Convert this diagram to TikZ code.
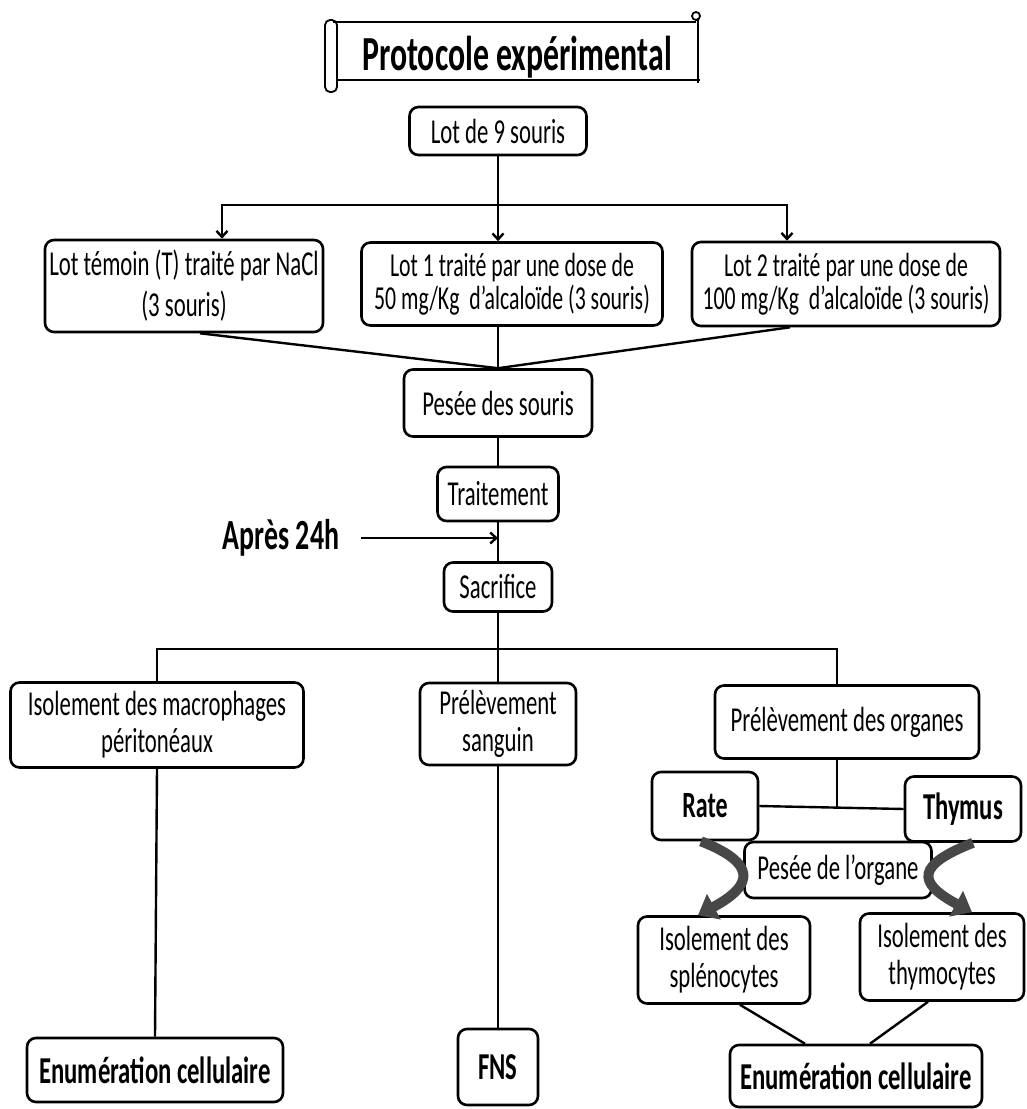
\documentclass[tikz,border=0pt]{standalone}
\usepackage{fontspec}
\setmainfont{Carlito}[FakeStretch=0.65]
\usetikzlibrary{arrows.meta}
\begin{document}
\begin{tikzpicture}[x=1pt,y=-1pt,
  pbox/.style={draw, line width=2.6pt, rounded corners=9pt, fill=white, align=center, inner sep=2pt,
    font=\fontsize{35}{37}\selectfont},
  conn/.style={line width=2.4pt},
  arr/.style={line width=2.4pt, -{Straight Barb[length=6pt,width=11pt]}},
  big/.style={line width=10pt, draw=black!72, -{Triangle[length=18pt,width=28pt]}},
  bff/.style={font=\fontsize{#1}{#1}\selectfont\bfseries},
  scroll/.style={line width=1.8pt}
]
\useasboundingbox (0,0) rectangle (1027,1109);

% title scroll
\node[bff=49, inner sep=0pt] (title) at (517,57) {Protocole expérimental};
\draw[scroll] (333,22) -- (696,22);
\draw[scroll] (337,80) -- (700,80);
\draw[scroll] (698,18) -- (698,83);
\draw[scroll, rounded corners=5pt] (325,20) rectangle (337,92);
\draw[scroll] (696,16) circle (4);

% nodes
\node[pbox, minimum width=177pt, minimum height=48pt] (lot9) at (498,131) {Lot de 9 souris};
\node[pbox, minimum width=278pt, minimum height=92pt, font=\fontsize{35}{41}\selectfont] (temoin) at (184,286)
  {Lot témoin (T) traité par NaCl\\(3 souris)};
\node[pbox, minimum width=301pt, minimum height=83pt, font=\fontsize{33.5}{33}\selectfont] (lot1) at (512,284)
  {Lot 1 traité par une dose de\\50 mg/Kg~~d’alcaloïde (3 souris)};
\node[pbox, minimum width=308pt, minimum height=84pt, font=\fontsize{33.5}{33}\selectfont] (lot2) at (846,284)
  {Lot 2 traité par une dose de\\100 mg/Kg~~d’alcaloïde (3 souris)};
\node[pbox, minimum width=188pt, minimum height=67pt] (pesee) at (498,403) {Pesée des souris};
\node[pbox, minimum width=121pt, minimum height=54pt] (trait) at (498,494) {Traitement};
\node[bff=43, inner sep=0pt] (apres) at (281,538) {Après 24h};
\node[pbox, minimum width=108pt, minimum height=49pt] (sacr) at (498,587) {Sacrifice};
\node[pbox, minimum width=293pt, minimum height=85pt] (macro) at (157,725)
  {Isolement des macrophages\\péritonéaux};
\node[pbox, minimum width=156pt, minimum height=82pt] (sang) at (498,724) {Prélèvement\\sanguin};
\node[pbox, minimum width=264pt, minimum height=73pt] (organes) at (847,722) {Prélèvement des organes};
\node[pbox, minimum width=106pt, minimum height=68pt, bff=37] (rate) at (705,806) {Rate};
\node[pbox, minimum width=116pt, minimum height=65pt, bff=38] (thymus) at (963,809) {Thymus};
\node[pbox, minimum width=187pt, minimum height=56pt] (orgpesee) at (838,870) {Pesée de l’organe};
\node[pbox, minimum width=172pt, minimum height=87pt] (splen) at (724,960) {Isolement des\\splénocytes};
\node[pbox, minimum width=164pt, minimum height=87pt] (thymo) at (942,957) {Isolement des\\thymocytes};
\node[pbox, minimum width=252pt, minimum height=62pt, bff=38] (enumR) at (856,1076) {Enumération cellulaire};
\node[pbox, minimum width=256pt, minimum height=64pt, bff=38] (enumL) at (155,1070) {Enumération cellulaire};
\node[pbox, minimum width=80pt, minimum height=76pt, bff=38] (fns) at (498,1067) {FNS};

% top distribution
\coordinate (s1) at (498,205);
\draw[conn] (lot9.south) -- (s1);
\draw[arr] (s1) -| ([xshift=38pt]temoin.north);
\draw[arr] (s1) -| ([xshift=-59pt]lot2.north);
\draw[arr] (s1) -- (s1 |- lot1.north);

% converge to pesee
\draw[conn] ([xshift=16pt]temoin.south) -- (pesee.north);
\draw[conn] (pesee.north |- lot1.south) -- (pesee.north);
\draw[conn] ([xshift=-56pt]lot2.south) -- (pesee.north);

% central chain
\draw[conn] (pesee.south) -- (trait.north);
\draw[conn] (trait.south) -- (sacr.north);
\draw[arr] ([xshift=22pt]apres.east) -- (trait.south |- apres.east);

% split after sacrifice
\coordinate (s2) at (498,649);
\draw[conn] (sacr.south) -- (s2);
\draw[conn] (macro.north) -- (macro.north |- s2) -- ([xshift=-10pt]organes.north |- s2) -- ([xshift=-10pt]organes.north);
\draw[conn] (s2) -- (sang.north);

% lower branches
\draw[conn] (macro.south) -- (enumL.north);
\draw[conn] (sang.south) -- (fns.north);
\draw[conn] (rate.east) -- (thymus.west);
\coordinate (j) at (837,808);
\draw[conn] ([xshift=-10pt]organes.south) -- (j);

% thick curved arrows
\draw[big] ([xshift=-4pt]rate.south) .. controls +(56,22) and +(56,-30) .. ([xshift=-26pt]splen.north);
\draw[big] ([xshift=10pt]thymus.south) .. controls +(-56,22) and +(-56,-30) .. ([xshift=30pt]thymo.north);

% to final enumeration
\draw[conn] ([xshift=16pt]splen.south) -- ([xshift=-51pt]enumR.north);
\draw[conn] ([xshift=-14pt]thymo.south) -- ([xshift=14pt]enumR.north);
\end{tikzpicture}
\end{document}
